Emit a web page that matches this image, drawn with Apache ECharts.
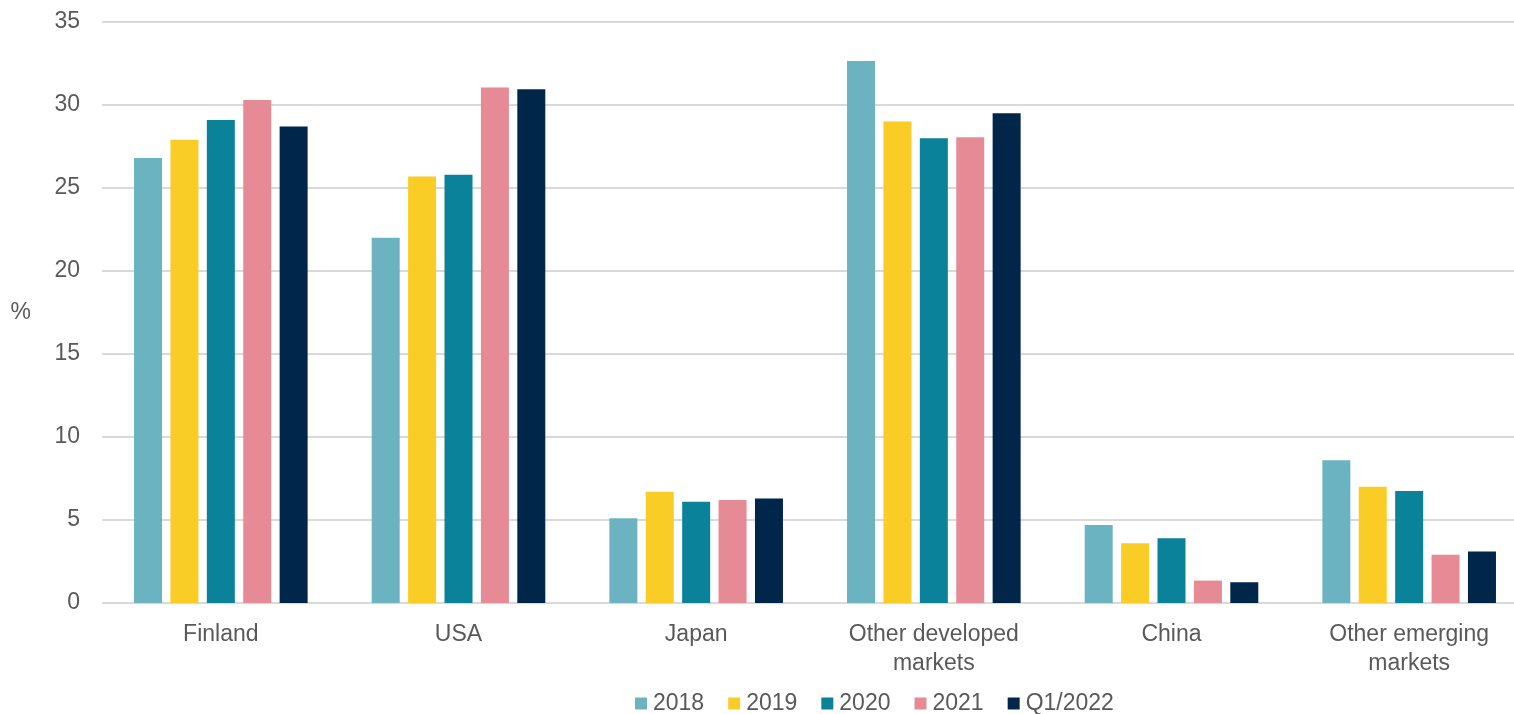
<!DOCTYPE html>
<html>
<head>
<meta charset="utf-8">
<script src="https://cdn.jsdelivr.net/npm/echarts@6/dist/echarts.min.js"></script>
<style>
  html, body { margin: 0; padding: 0; background: #fff; overflow: hidden; }
  /* the reference plot runs slightly past the right edge, so the canvas is a bit wider than the window */
  #chart { width: 1530px; height: 714px; }
</style>
</head>
<body>
<div id="chart"></div>
<script>
const categories = ["Finland", "USA", "Japan", "Other developed\nmarkets", "China", "Other emerging\nmarkets"];
const seriesNames = ["2018", "2019", "2020", "2021", "Q1/2022"];
const values2018 = [26.8, 22.0, 5.1, 32.65, 4.7, 8.6];
const values2019 = [27.9, 25.7, 6.7, 29.0, 3.6, 7.0];
const values2020 = [29.1, 25.8, 6.1, 28.0, 3.9, 6.75];
const values2021 = [30.3, 31.05, 6.2, 28.05, 1.35, 2.9];
const valuesQ1 = [28.7, 30.95, 6.3, 29.5, 1.25, 3.1];
const colors = ["#6bb3c1", "#f9cc26", "#0a8299", "#e68a96", "#00264a"];

const allValues = [values2018, values2019, values2020, values2021, valuesQ1];
const textColor = "#595959";
const font = "'Liberation Sans', Arial, sans-serif";

const chart = echarts.init(document.getElementById("chart"));
chart.setOption({
  animation: false,
  textStyle: { fontFamily: font },
  legend: {
    data: seriesNames,
    left: 635,
    top: 692,
    padding: 0,
    icon: "rect",
    itemWidth: 12,
    itemHeight: 12,
    itemGap: 24,
    textStyle: { color: textColor, fontSize: 23, fontFamily: font, padding: [0, 0, 0, 1] }
  },
  grid: { left: 102, right: 2, top: 22, bottom: 111 },
  xAxis: {
    type: "category",
    data: categories,
    axisLine: { show: false },
    axisTick: { show: false },
    axisLabel: { color: textColor, fontSize: 23, margin: 17, lineHeight: 29, fontFamily: font }
  },
  yAxis: {
    type: "value",
    min: 0,
    max: 35,
    interval: 5,
    name: "%",
    nameLocation: "middle",
    nameRotate: 0,
    nameGap: 71,
    nameTextStyle: { color: textColor, fontSize: 23, fontFamily: font },
    axisLine: { show: false },
    axisTick: { show: false },
    axisLabel: { color: textColor, fontSize: 23, margin: 22, fontFamily: font },
    splitLine: { lineStyle: { color: "#d9d9d9", width: 2 } }
  },
  series: seriesNames.map((name, i) => ({
    name: name,
    type: "bar",
    data: allValues[i],
    barWidth: 28,
    barGap: "30%",
    itemStyle: { color: colors[i] }
  }))
});
</script>
</body>
</html>
